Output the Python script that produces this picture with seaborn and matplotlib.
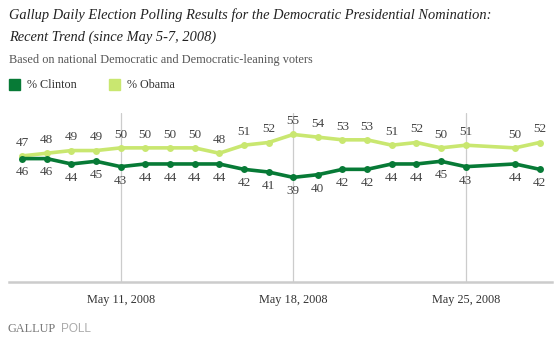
import matplotlib
matplotlib.use("Agg")
import matplotlib.pyplot as plt
import matplotlib.patches as mpatches
import seaborn as sns
import pandas as pd
import numpy as np

dates = ["2008-05-07", "2008-05-08", "2008-05-09", "2008-05-10", "2008-05-11",
         "2008-05-12", "2008-05-13", "2008-05-14", "2008-05-15", "2008-05-16",
         "2008-05-17", "2008-05-18", "2008-05-19", "2008-05-20", "2008-05-21",
         "2008-05-22", "2008-05-23", "2008-05-24", "2008-05-25", "2008-05-27",
         "2008-05-28"]
clinton = [46, 46, 44, 45, 43, 44, 44, 44, 44, 42, 41, 39, 40, 42, 42, 44, 44, 45, 43, 44, 42]
obama = [47, 48, 49, 49, 50, 50, 50, 50, 48, 51, 52, 55, 54, 53, 53, 51, 52, 50, 51, 50, 52]
tick_dates = ["2008-05-11", "2008-05-18", "2008-05-25"]
tick_labels = ["May 11, 2008", "May 18, 2008", "May 25, 2008"]

C_CLINTON = "#077a36"
C_OBAMA = "#c9e770"

sns.set_theme(style="white")
plt.rcParams["font.family"] = ["Liberation Serif", "DejaVu Serif"]

start = pd.Timestamp("2008-05-07")
day = [(pd.Timestamp(d) - start).days for d in dates]
df = pd.DataFrame({"day": day * 2,
                   "value": clinton + obama,
                   "series": ["% Clinton"] * len(day) + ["% Obama"] * len(day)})

fig = plt.figure(figsize=(5.59, 3.41), dpi=100)
W, H = 559, 341
ax = fig.add_axes([9 / W, 1 - 282 / H, (552 - 9) / W, (282 - 113) / H])

sns.lineplot(data=df, x="day", y="value", hue="series",
             palette={"% Clinton": C_CLINTON, "% Obama": C_OBAMA},
             hue_order=["% Obama", "% Clinton"],
             marker="o", markersize=5, markeredgewidth=0, linewidth=2.6,
             legend=False, ax=ax)

ax.set_xlim(-0.53, 21.5)
ax.set_ylim(0, 63)
ticks = [(pd.Timestamp(t) - start).days for t in tick_dates]
ax.set_xticks(ticks)
ax.set_xticklabels(tick_labels, fontsize=8.8, color="#333333")
ax.set_yticks([])
ax.set_xlabel("")
ax.set_ylabel("")
for t in ticks:
    ax.axvline(t, color="#cccccc", lw=0.9, zorder=0)
for s in ["top", "right", "left"]:
    ax.spines[s].set_visible(False)
ax.spines["bottom"].set_color("#cccccc")
ax.spines["bottom"].set_linewidth(1.8)
ax.tick_params(axis="x", length=0, pad=9)

for x, c, o in zip(day, clinton, obama):
    ax.annotate(str(o), (x, o), xytext=(0, 9.5), textcoords="offset points",
                ha="center", va="center", fontsize=9.5, color="#444444")
    ax.annotate(str(c), (x, c), xytext=(0, -10), textcoords="offset points",
                ha="center", va="center", fontsize=9.5, color="#444444")

fig.text(9 / W, 1 - 15 / H, "Gallup Daily Election Polling Results for the Democratic Presidential Nomination:",
         fontsize=10.4, style="italic", color="#222222", va="center", ha="left")
fig.text(9 / W, 1 - 37 / H, "Recent Trend (since May 5-7, 2008)",
         fontsize=10.4, style="italic", color="#222222", va="center", ha="left")
fig.text(9 / W, 1 - 60 / H, "Based on national Democratic and Democratic-leaning voters",
         fontsize=8.8, color="#555555", va="center", ha="left")

fig.patches.append(mpatches.Rectangle((9 / W, 1 - 90 / H), 11 / W, 11 / H,
                                      transform=fig.transFigure, color=C_CLINTON, figure=fig))
fig.text(27 / W, 1 - 84.5 / H, "% Clinton", fontsize=8.7, color="#333333", va="center", ha="left")
fig.patches.append(mpatches.Rectangle((109 / W, 1 - 90 / H), 11 / W, 11 / H,
                                      transform=fig.transFigure, color=C_OBAMA, figure=fig))
fig.text(127 / W, 1 - 84.5 / H, "% Obama", fontsize=8.7, color="#333333", va="center", ha="left")

fig.text(8 / W, 1 - 329.5 / H, "GALLUP", fontsize=8.8, color="#777777", va="center", ha="left",
         family=["Liberation Serif"])
fig.text(61 / W, 1 - 329.5 / H, "POLL", fontsize=8.5, color="#aaaaaa", va="center", ha="left",
         family=["Liberation Sans"])

fig.savefig("out.png", dpi=100)
